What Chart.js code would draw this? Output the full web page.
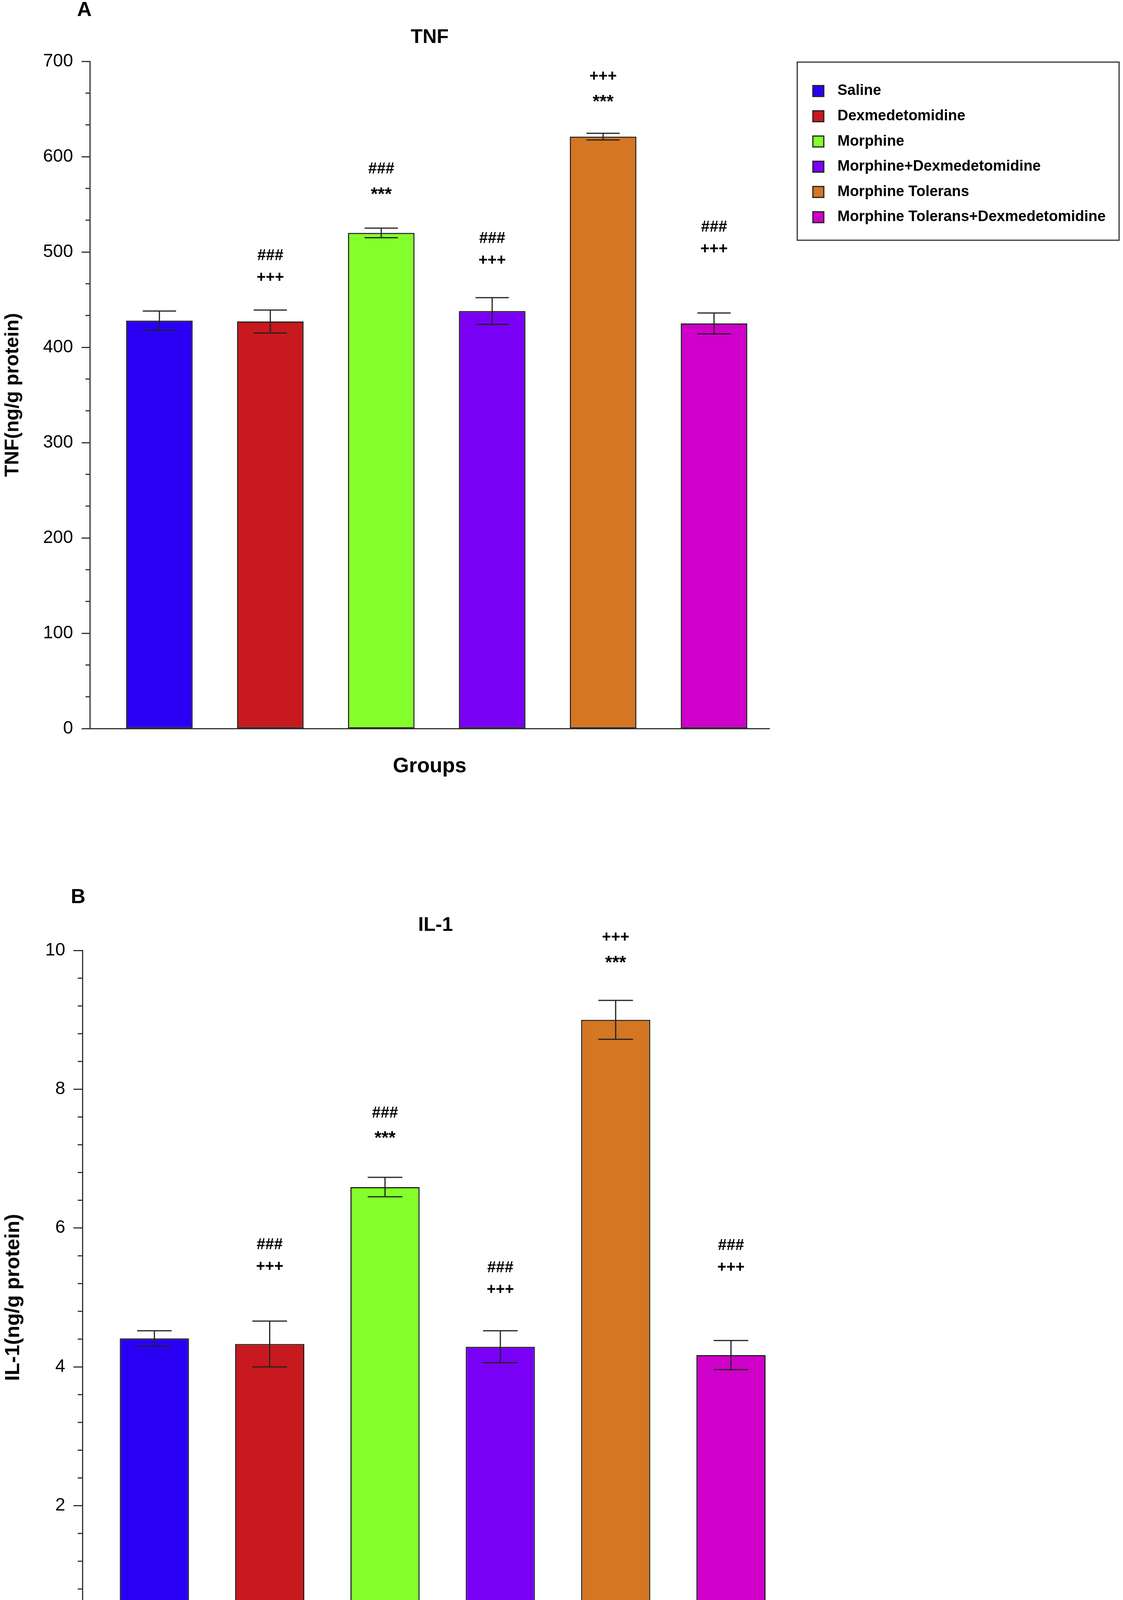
<!DOCTYPE html>
<html>
<head>
<meta charset="utf-8">
<script src="https://cdn.jsdelivr.net/npm/chart.js@4.4.1/dist/chart.umd.min.js"></script>
<style>
  body { margin: 0; background: #fff; width: 2875px; height: 4341px; position: relative; }
  canvas { position: absolute; left: 0; }
</style>
</head>
<body>
<canvas id="chartTnf" width="2875" height="2150" style="top:0"></canvas>
<canvas id="chartIl1" width="2875" height="2141" style="top:2200px"></canvas>
<script>
const groups = ['Saline', 'Dexmedetomidine', 'Morphine', 'Morphine+Dexmedetomidine', 'Morphine Tolerans', 'Morphine Tolerans+Dexmedetomidine'];
const groupColors = ['#2a00f5', '#c8191e', '#84ff2c', '#7a00f5', '#d47622', '#cf00c9'];

// panel A - TNF
const tnfMean = [428, 427, 520, 438, 621, 425];
const tnfSem = [10, 12, 5, 14, 3.5, 11];
const tnfMarkTop = ['', '###', '###', '###', '+++', '###'];
const tnfMarkBottom = ['', '+++', '***', '+++', '***', '+++'];
const tnfMarkAt = [null, 473, 564, 491, 661, 503];

// panel B - IL-1
const il1Mean = [4.41, 4.33, 6.59, 4.29, 9.0, 4.17];
const il1Sem = [0.11, 0.33, 0.14, 0.23, 0.28, 0.21];
const il1MarkTop = ['', '###', '###', '###', '+++', '###'];
const il1MarkBottom = ['', '+++', '***', '+++', '***', '+++'];
const il1MarkAt = [null, 5.44, 7.34, 5.11, 9.87, 5.43];

const FONT = "'Liberation Sans', Arial, Helvetica, sans-serif";
const INK = '#222';

// error bars, minor ticks, significance marks, panel letter, boxed legend
const extras = {
  id: 'extras',
  afterDatasetsDraw(chart, args, opts) {
    const ctx = chart.ctx;
    const y = chart.scales.y;
    const bars = chart.getDatasetMeta(0).data;
    ctx.save();
    ctx.strokeStyle = INK;
    ctx.lineWidth = 3;
    bars.forEach(function(bar, i) {
      const top = y.getPixelForValue(opts.mean[i] + opts.sem[i]);
      const bot = y.getPixelForValue(opts.mean[i] - opts.sem[i]);
      const half = bar.width * 0.25;
      ctx.beginPath();
      ctx.moveTo(bar.x, top); ctx.lineTo(bar.x, bot);
      ctx.moveTo(bar.x - half, top); ctx.lineTo(bar.x + half, top);
      ctx.moveTo(bar.x - half, bot); ctx.lineTo(bar.x + half, bot);
      ctx.stroke();
    });

    // minor ticks on the y axis
    ctx.strokeStyle = '#333';
    const ax = chart.chartArea.left;
    const n = Math.round((y.max - y.min) / opts.minorStep);
    for (let k = 0; k <= n; k++) {
      if (k % opts.minorPerMajor === 0) continue;
      const py = y.getPixelForValue(y.min + k * opts.minorStep);
      ctx.beginPath();
      ctx.moveTo(ax - opts.minorLen, py);
      ctx.lineTo(ax, py);
      ctx.stroke();
    }

    // significance marks
    ctx.fillStyle = '#000';
    ctx.font = 'bold 40px ' + FONT;
    ctx.textAlign = 'center';
    ctx.textBaseline = 'middle';
    bars.forEach(function(bar, i) {
      if (opts.markAt[i] == null) return;
      const py = y.getPixelForValue(opts.markAt[i]);
      const lines = [opts.markTop[i], opts.markBottom[i]];
      lines.forEach(function(t, j) {
        const star = t.indexOf('*') >= 0;
        ctx.font = (star ? 'bold 46px ' : 'bold 40px ') + FONT;
        const yy = py - (1 - j) * 56 + (star ? 10 : 0);
        ctx.fillText(t, bar.x, yy);
      });
    });

    // panel letter
    ctx.font = 'bold 52px ' + FONT;
    ctx.fillText(opts.letter.text, opts.letter.x, opts.letter.y);

    // legend with frame
    if (opts.legend) {
      const L = opts.legend;
      ctx.strokeStyle = '#333';
      ctx.lineWidth = 3;
      ctx.strokeRect(L.left, L.top, L.width, L.height);
      ctx.font = 'bold 38px ' + FONT;
      ctx.textAlign = 'left';
      groups.forEach(function(name, i) {
        const cy = L.firstRow + i * L.rowGap;
        ctx.fillStyle = groupColors[i];
        ctx.fillRect(L.swatchX, cy - L.swatch / 2, L.swatch, L.swatch);
        ctx.strokeStyle = INK;
        ctx.lineWidth = 3;
        ctx.strokeRect(L.swatchX, cy - L.swatch / 2, L.swatch, L.swatch);
        ctx.fillStyle = '#000';
        ctx.fillText(name, L.textX, cy);
      });
    }
    ctx.restore();
  }
};

function makeChart(id, c) {
  return new Chart(document.getElementById(id), {
    type: 'bar',
    data: {
      datasets: [{
        data: c.mean.map(function(v, i) { return { x: i, y: v }; }),
        backgroundColor: groupColors,
        borderColor: INK,
        borderWidth: 3,
        borderSkipped: false,
        barPercentage: 0.6,
        categoryPercentage: 1
      }]
    },
    options: {
      responsive: false,
      animation: false,
      devicePixelRatio: 1,
      layout: { padding: { left: 0, top: 0, right: c.padRight, bottom: c.padBottom } },
      plugins: {
        legend: { display: false },
        tooltip: { enabled: false },
        title: {
          display: true,
          text: c.title,
          fullSize: false,
          color: '#000',
          font: { family: FONT, size: 50, weight: 'bold' },
          padding: { top: c.titleTop, bottom: c.titleBottom }
        },
        extras: {
          mean: c.mean, sem: c.sem,
          markTop: c.markTop, markBottom: c.markBottom, markAt: c.markAt,
          minorStep: c.minorStep, minorPerMajor: c.minorPerMajor, minorLen: c.minorLen,
          letter: c.letter,
          legend: c.legend
        }
      },
      scales: {
        x: {
          type: 'linear',
          offset: false,
          min: c.xMin,
          max: 5.5,
          ticks: { display: false },
          grid: { display: false },
          border: { color: '#333', width: 3 },
          title: {
            display: true,
            text: 'Groups',
            color: '#000',
            font: { family: FONT, size: 53, weight: 'bold' },
            padding: 0
          },
          // one tick per group so bar width follows group spacing
          afterBuildTicks: function(s) { s.ticks = groups.map(function(g, i) { return { value: i }; }); },
          afterFit: function(s) { s.height = c.xHeight; }
        },
        y: {
          min: 0,
          max: c.yMax,
          ticks: { stepSize: c.step, color: '#000', font: { family: FONT, size: 46 }, padding: c.tickPad },
          grid: { drawOnChartArea: false, tickLength: c.tickLen, tickColor: '#333', tickWidth: 3 },
          border: { color: '#333', width: 3 },
          title: {
            display: true,
            text: c.yTitle,
            color: '#000',
            font: { family: FONT, size: c.yTitleSize, weight: 'bold' },
            padding: { top: 3, bottom: 0 }
          },
          afterFit: function(s) { s.width = c.yWidth; }
        }
      }
    },
    plugins: [extras]
  });
}

makeChart('chartTnf', {
  mean: tnfMean, sem: tnfSem,
  markTop: tnfMarkTop, markBottom: tnfMarkBottom, markAt: tnfMarkAt,
  title: 'TNF', yTitle: 'TNF(ng/g protein)', yTitleSize: 50,
  yMax: 700, step: 100, minorStep: 100 / 3, minorPerMajor: 3, minorLen: 11,
  yWidth: 230, tickLen: 21, tickPad: 22,
  xMin: -0.627, xHeight: 129,
  padRight: 905, padBottom: 156,
  titleTop: 66, titleBottom: 31,
  letter: { text: 'A', x: 216, y: 27 },
  legend: { left: 2041, top: 159, width: 824, height: 456, firstRow: 233, rowGap: 64.6, swatch: 28, swatchX: 2081, textX: 2144 }
});

makeChart('chartIl1', {
  mean: il1Mean, sem: il1Sem,
  markTop: il1MarkTop, markBottom: il1MarkBottom, markAt: il1MarkAt,
  title: 'IL-1', yTitle: 'IL-1(ng/g protein)', yTitleSize: 52,
  yMax: 10, step: 2, minorStep: 0.4, minorPerMajor: 5, minorLen: 12,
  yWidth: 211, tickLen: 23, tickPad: 21,
  xMin: -0.624, xHeight: 122,
  padRight: 856, padBottom: 9,
  titleTop: 139, titleBottom: 34,
  letter: { text: 'B', x: 200, y: 98 },
  legend: null
});
</script>
</body>
</html>
